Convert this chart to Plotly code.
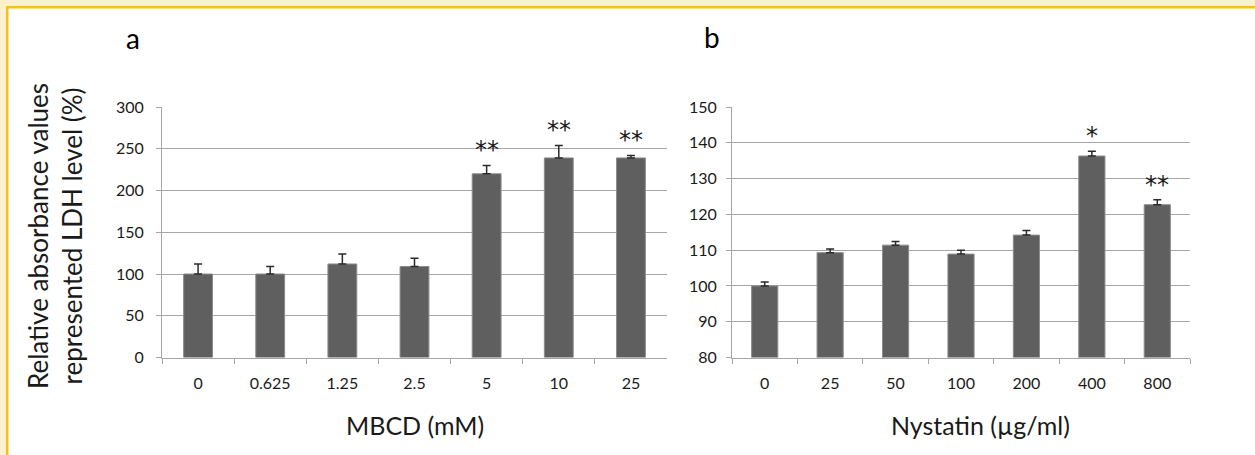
import plotly.graph_objects as go

# ---------------- data ----------------
mbcd_labels = ["0", "0.625", "1.25", "2.5", "5", "10", "25"]
mbcd_values = [100, 100, 112, 109, 220, 239, 239]
mbcd_errors = [12, 9, 12, 10, 10, 15, 3]
mbcd_stars = ["", "", "", "", "**", "**", "**"]

nys_labels = ["0", "25", "50", "100", "200", "400", "800"]
nys_values = [100, 109.3, 111.4, 108.9, 114.2, 136.3, 122.7]
nys_errors = [1.1, 1.0, 1.0, 1.1, 1.3, 1.3, 1.4]
nys_stars = ["", "", "", "", "", "*", "**"]

mbcd_ticks = [0, 50, 100, 150, 200, 250, 300]
nys_ticks = [80, 90, 100, 110, 120, 130, 140, 150]

# ---------------- style ----------------
W, H = 1255, 455
FONT = "Lato"
BAR = "#5f5f5f"
BAR_EDGE = "#8c8c8c"
GRID = "#a6a6a6"
TXT = "#1a1a1a"


def px_x(p):
    return p / W


def px_y(p):
    return 1 - p / H


fig = go.Figure()

for xa, ya, labels, vals, errs in [
    ("x", "y", mbcd_labels, mbcd_values, mbcd_errors),
    ("x2", "y2", nys_labels, nys_values, nys_errors),
]:
    fig.add_trace(go.Bar(
        x=labels, y=vals, xaxis=xa, yaxis=ya,
        marker=dict(color=BAR, line=dict(color=BAR_EDGE, width=1)),
        width=0.4,
        error_y=dict(type="data", array=errs, arrayminus=[0] * len(errs),
                     symmetric=False, color="#2a2a2a", thickness=1.5, width=4),
        showlegend=False, hoverinfo="x+y",
    ))

axis_common = dict(
    showline=True, linecolor=GRID, linewidth=1, automargin=False,
    tickfont=dict(family=FONT, size=16, color=TXT),
)

fig.update_layout(
    width=W, height=H, autosize=False,
    margin=dict(l=0, r=0, t=0, b=0, pad=0, autoexpand=False),
    paper_bgcolor="white", plot_bgcolor="white",
    xaxis=dict(domain=[px_x(162), px_x(667)], anchor="y", type="category",
               categoryorder="array", categoryarray=mbcd_labels,
               range=[-0.5, len(mbcd_labels) - 0.5],
               ticks="outside", tickson="boundaries", ticklen=5, tickcolor=GRID,
               ticklabelstandoff=11,
               tickangle=0, showgrid=False, **axis_common),
    yaxis=dict(domain=[px_y(357.5), px_y(107)], anchor="x", range=[0, 300],
               tickvals=mbcd_ticks, ticks="outside", ticklen=5, tickcolor=GRID,
               ticklabelstandoff=9,
               showgrid=True, gridcolor=GRID, gridwidth=1, zeroline=False,
               **axis_common),
    xaxis2=dict(domain=[px_x(732), px_x(1190)], anchor="y2", type="category",
                categoryorder="array", categoryarray=nys_labels,
                range=[-0.5, len(nys_labels) - 0.5],
                ticks="outside", tickson="boundaries", ticklen=5, tickcolor=GRID,
                ticklabelstandoff=11,
                tickangle=0, showgrid=False, **axis_common),
    yaxis2=dict(domain=[px_y(357.5), px_y(107)], anchor="x2", range=[80, 150],
                tickvals=nys_ticks, ticks="outside", ticklen=5, tickcolor=GRID,
                ticklabelstandoff=6,
                showgrid=True, gridcolor=GRID, gridwidth=1, zeroline=False,
                **axis_common),
)

annotations = []
# significance stars (x given as category index)
for xa, ya, vals, errs, stars in [
    ("x", "y", mbcd_values, mbcd_errors, mbcd_stars),
    ("x2", "y2", nys_values, nys_errors, nys_stars),
]:
    for i, (v, e, s) in enumerate(zip(vals, errs, stars)):
        if s:
            annotations.append(dict(
                x=i, y=v + e, xref=xa, yref=ya, text=s, showarrow=False,
                yanchor="bottom", yshift=-1,
                font=dict(family="DejaVu Sans", size=24, color=TXT),
            ))

# panel letters
annotations.append(dict(x=px_x(133), y=px_y(38), xref="paper", yref="paper",
                        text="a", showarrow=False, xanchor="center", yanchor="middle",
                        font=dict(family=FONT, size=28, color="black")))
annotations.append(dict(x=px_x(712), y=px_y(37), xref="paper", yref="paper",
                        text="b", showarrow=False, xanchor="center", yanchor="middle",
                        font=dict(family=FONT, size=28, color="black")))
# axis titles
annotations.append(dict(x=px_x(415), y=px_y(425), xref="paper", yref="paper",
                        text="MBCD (mM)", showarrow=False, xanchor="center", yanchor="middle",
                        font=dict(family=FONT, size=25, color=TXT)))
annotations.append(dict(x=px_x(980), y=px_y(425), xref="paper", yref="paper",
                        text="Nystatin (µg/ml)", showarrow=False, xanchor="center", yanchor="middle",
                        font=dict(family=FONT, size=25, color=TXT)))
annotations.append(dict(x=px_x(55), y=px_y(236), xref="paper", yref="paper",
                        text="Relative absorbance values<br>represented LDH level (%)",
                        showarrow=False, xanchor="center", yanchor="middle", textangle=-90,
                        font=dict(family=FONT, size=26, color=TXT)))
fig.update_layout(annotations=annotations)

# outer frame: cream margin with yellow border on top and left
CREAM = "#fdf0d2"
YELLOW = "#f5c21b"
fig.update_layout(shapes=[
    dict(type="rect", xref="paper", yref="paper", x0=0, x1=1, y0=px_y(6), y1=1,
         fillcolor=CREAM, line=dict(width=0), layer="below"),
    dict(type="rect", xref="paper", yref="paper", x0=0, x1=px_x(6), y0=0, y1=1,
         fillcolor=CREAM, line=dict(width=0), layer="below"),
    dict(type="rect", xref="paper", yref="paper", x0=px_x(6), x1=1, y0=px_y(8.5), y1=px_y(6),
         fillcolor=YELLOW, line=dict(width=0), layer="below"),
    dict(type="rect", xref="paper", yref="paper", x0=px_x(6), x1=px_x(8.5), y0=0, y1=px_y(6),
         fillcolor=YELLOW, line=dict(width=0), layer="below"),
])

fig.write_html(
    "out.html",
    config={"displayModeBar": False},
    post_script=(
        "var d=document.getElementById('{plot_id}');"
        "d.style.position='fixed';d.style.top='0px';d.style.left='0px';"
        "document.body.style.margin='0';"
        "document.documentElement.style.overflow='hidden';"
        "document.body.style.overflow='hidden';"
    ),
)
